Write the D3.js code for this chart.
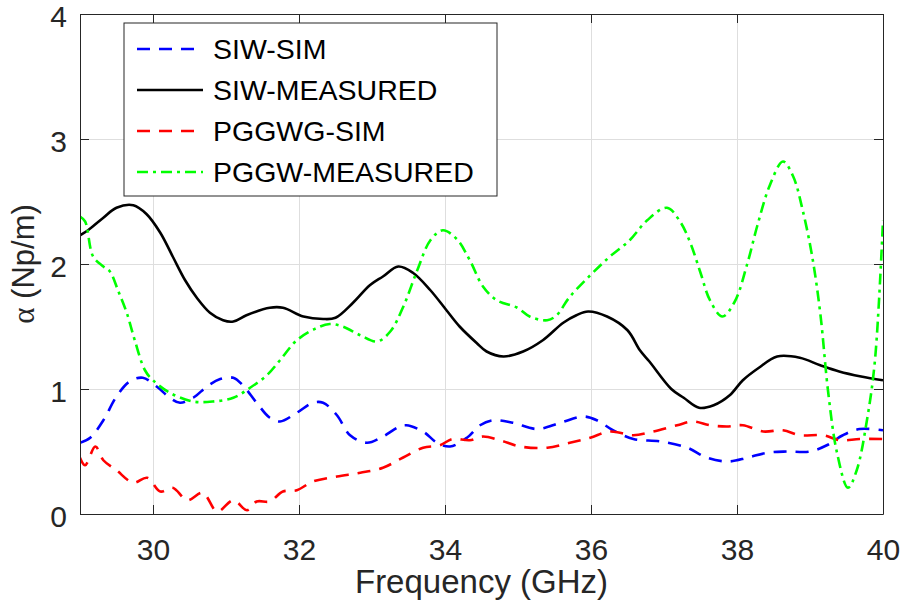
<!DOCTYPE html>
<html>
<head>
<meta charset="utf-8">
<script src="https://cdn.jsdelivr.net/npm/d3@7"></script>
<style>
  body { margin: 0; background: #fff; }
  svg { display: block; font-family: "Liberation Sans", Arial, Helvetica, sans-serif; }
  .axis path, .axis line { stroke: #262626; }
  .axis text { fill: #262626; font-size: 30px; }
  .grid line { stroke: #dedede; }
  .grid path { stroke: none; }
</style>
</head>
<body>
<svg></svg>
<script>
// frequency ticks and alpha ticks
const xTicks = [30, 32, 34, 36, 38, 40];
const yTicks = [0, 1, 2, 3, 4];

const seriesNames = ["SIW-SIM", "SIW-MEASURED", "PGGWG-SIM", "PGGW-MEASURED"];

// SIW-SIM (blue dashed)
const siwSimFreq = [29, 29.14, 29.32, 29.5, 29.68, 29.86, 30.05, 30.23, 30.37, 30.55, 30.74, 30.92, 31.1, 31.23, 31.42, 31.6, 31.74, 31.97, 32.19, 32.33, 32.52, 32.7, 32.93, 33.15, 33.38, 33.47, 33.7, 33.89, 34.07, 34.3, 34.48, 34.66, 34.93, 35.26, 35.58, 35.89, 36.08, 36.3, 36.58, 36.95, 37.32, 37.59, 37.88, 38.14, 38.41, 38.68, 39.0, 39.23, 39.45, 39.68, 40];
const siwSimAlpha = [0.57, 0.61, 0.75, 0.94, 1.06, 1.09, 1.02, 0.93, 0.89, 0.93, 1.02, 1.08, 1.09, 1.03, 0.89, 0.77, 0.74, 0.81, 0.89, 0.89, 0.79, 0.63, 0.57, 0.62, 0.70, 0.71, 0.66, 0.57, 0.54, 0.61, 0.71, 0.75, 0.73, 0.68, 0.73, 0.78, 0.75, 0.67, 0.60, 0.58, 0.53, 0.45, 0.42, 0.45, 0.49, 0.50, 0.50, 0.55, 0.63, 0.68, 0.67];

// SIW-MEASURED (black solid)
const siwMeasFreq = [29, 29.11, 29.32, 29.5, 29.73, 29.91, 30.1, 30.27, 30.44, 30.6, 30.78, 30.96, 31.1, 31.28, 31.6, 31.78, 32.06, 32.33, 32.5, 32.74, 32.97, 33.15, 33.36, 33.56, 33.8, 34.02, 34.2, 34.43, 34.57, 34.8, 35.07, 35.34, 35.62, 35.8, 35.96, 36.22, 36.5, 36.67, 36.8, 37.1, 37.27, 37.48, 37.68, 37.9, 38.08, 38.3, 38.55, 38.86, 39.14, 39.4, 39.7, 40];
const siwMeasAlpha = [2.23, 2.27, 2.37, 2.45, 2.47, 2.40, 2.25, 2.06, 1.87, 1.73, 1.61, 1.55, 1.54, 1.59, 1.65, 1.65, 1.58, 1.56, 1.57, 1.69, 1.83, 1.90, 1.98, 1.93, 1.79, 1.63, 1.50, 1.37, 1.30, 1.26, 1.30, 1.39, 1.53, 1.59, 1.62, 1.58, 1.47, 1.31, 1.22, 1.00, 0.93, 0.85, 0.87, 0.95, 1.07, 1.17, 1.26, 1.25, 1.19, 1.14, 1.10, 1.07];

// PGGWG-SIM (red dashed)
const pggSimFreq = [29, 29.07, 29.21, 29.32, 29.5, 29.73, 29.92, 30.1, 30.27, 30.47, 30.68, 30.88, 31.1, 31.29, 31.42, 31.6, 31.78, 31.97, 32.19, 32.52, 32.84, 33.15, 33.42, 33.7, 33.93, 34.1, 34.34, 34.52, 34.75, 35.03, 35.4, 35.71, 35.99, 36.26, 36.58, 36.85, 37.18, 37.4, 37.63, 37.86, 38.08, 38.36, 38.63, 38.86, 39.18, 39.41, 39.68, 40];
const pggSimAlpha = [0.45, 0.39, 0.54, 0.43, 0.35, 0.25, 0.29, 0.18, 0.21, 0.11, 0.17, 0.02, 0.11, 0.03, 0.10, 0.10, 0.18, 0.19, 0.26, 0.30, 0.33, 0.37, 0.45, 0.53, 0.55, 0.60, 0.59, 0.62, 0.59, 0.54, 0.53, 0.57, 0.61, 0.66, 0.63, 0.66, 0.71, 0.74, 0.71, 0.70, 0.71, 0.66, 0.67, 0.63, 0.63, 0.59, 0.60, 0.60];

// PGGW-MEASURED (green dash-dot)
const pggMeasFreq = [29, 29.07, 29.18, 29.32, 29.41, 29.52, 29.64, 29.75, 29.89, 30.0, 30.23, 30.55, 30.82, 31.1, 31.33, 31.56, 31.74, 31.97, 32.25, 32.42, 32.6, 32.84, 33.07, 33.25, 33.43, 33.62, 33.8, 33.97, 34.16, 34.34, 34.52, 34.71, 34.99, 35.16, 35.4, 35.53, 35.7, 35.99, 36.26, 36.53, 36.77, 37.04, 37.22, 37.36, 37.5, 37.63, 37.8, 37.97, 38.14, 38.28, 38.45, 38.63, 38.77, 38.9, 39.03, 39.14, 39.25, 39.37, 39.52, 39.64, 39.78, 39.89, 40];
const pggMeasAlpha = [2.38, 2.34, 2.06, 1.98, 1.94, 1.79, 1.61, 1.39, 1.15, 1.07, 0.97, 0.90, 0.90, 0.93, 1.01, 1.11, 1.23, 1.39, 1.49, 1.52, 1.50, 1.43, 1.38, 1.46, 1.66, 1.95, 2.19, 2.27, 2.20, 2.03, 1.82, 1.71, 1.65, 1.58, 1.55, 1.59, 1.73, 1.91, 2.06, 2.19, 2.35, 2.45, 2.34, 2.17, 1.93, 1.71, 1.58, 1.70, 2.00, 2.31, 2.63, 2.82, 2.70, 2.43, 2.06, 1.61, 0.97, 0.49, 0.21, 0.35, 0.75, 1.23, 2.35];

var margin = { top: 14, bottom: 100, left: 80, right: 25 };
var width = 908 - margin.left - margin.right;
var height = 614 - margin.top - margin.bottom;

const svg = d3.select("svg")
    .attr("width", width + margin.left + margin.right)
    .attr("height", height + margin.top + margin.bottom)
    .append("g")
    .attr("transform", `translate(${margin.left},${margin.top})`);

const x = d3.scaleLinear().domain([29, 40]).range([0, width]);
const y = d3.scaleLinear().domain([0, 4]).range([height, 0]);

// grid
svg.append("g")
    .attr("class", "grid")
    .attr("transform", `translate(0,${height})`)
    .call(d3.axisBottom(x).tickValues(xTicks).tickSize(-height).tickFormat(""));
svg.append("g")
    .attr("class", "grid")
    .call(d3.axisLeft(y).tickValues(yTicks).tickSize(-width).tickFormat(""));

// series
const series = [
    { name: seriesNames[0], freq: siwSimFreq, alpha: siwSimAlpha, color: "#0000ff", dash: "13,9" },
    { name: seriesNames[1], freq: siwMeasFreq, alpha: siwMeasAlpha, color: "#000000", dash: null },
    { name: seriesNames[2], freq: pggSimFreq, alpha: pggSimAlpha, color: "#ff0000", dash: "13,9" },
    { name: seriesNames[3], freq: pggMeasFreq, alpha: pggMeasAlpha, color: "#00ff00", dash: "11,5,3,5" }
];

svg.append("clipPath").attr("id", "clip")
    .append("rect").attr("width", width).attr("height", height);

const line = d3.line()
    .x(d => x(d[0]))
    .y(d => y(d[1]))
    .curve(d3.curveCatmullRom.alpha(0.5));

svg.append("g")
    .attr("clip-path", "url(#clip)")
    .selectAll(".series")
    .data(series)
    .enter().append("path")
    .attr("class", "series")
    .attr("fill", "none")
    .attr("stroke", d => d.color)
    .attr("stroke-width", 2.6)
    .attr("stroke-dasharray", d => d.dash)
    .attr("d", d => line(d.freq.map((f, i) => [f, d.alpha[i]])));

// axes, ticks inward on all four sides
svg.append("g")
    .attr("class", "axis")
    .attr("transform", `translate(0,${height})`)
    .call(d3.axisBottom(x).tickValues(xTicks).tickFormat(d3.format("d")).tickSizeInner(-9).tickSizeOuter(0).tickPadding(25));
svg.append("g")
    .attr("class", "axis")
    .call(d3.axisLeft(y).tickValues(yTicks).tickFormat(d3.format("d")).tickSizeInner(-9).tickSizeOuter(0).tickPadding(13))
    .selectAll("text")
    .attr("dy", "0.42em");
svg.append("g")
    .attr("class", "axis")
    .call(d3.axisTop(x).tickValues(xTicks).tickSizeInner(-9).tickSizeOuter(0).tickFormat(""));
svg.append("g")
    .attr("class", "axis")
    .attr("transform", `translate(${width},0)`)
    .call(d3.axisRight(y).tickValues(yTicks).tickSizeInner(-9).tickSizeOuter(0).tickFormat(""));

// axis labels
svg.append("text")
    .attr("x", width / 2)
    .attr("y", 579)
    .attr("text-anchor", "middle")
    .attr("fill", "#262626")
    .style("font-size", "33px")
    .text("Frequency (GHz)");

const yl = svg.append("text")
    .attr("transform", `translate(${34 - margin.left},${height / 2}) rotate(-90)`)
    .attr("text-anchor", "middle")
    .attr("fill", "#262626")
    .style("font-size", "31px");
yl.append("tspan").style("font-family", "'Liberation Serif', 'DejaVu Serif', serif").text("α");
yl.append("tspan").text(" (Np/m)");

// legend
const legend = svg.append("g")
    .attr("transform", `translate(${124 - margin.left},${23 - margin.top})`);
legend.append("rect")
    .attr("width", 373)
    .attr("height", 173)
    .attr("fill", "#fff")
    .attr("stroke", "#262626")
    .attr("stroke-width", 1);

const item = legend.selectAll(".item")
    .data(series)
    .enter().append("g")
    .attr("class", "item")
    .attr("transform", (d, i) => `translate(0,${26 + i * 41})`);
item.append("line")
    .attr("x1", 13).attr("x2", 79)
    .attr("stroke", d => d.color)
    .attr("stroke-width", 2.6)
    .attr("stroke-dasharray", d => d.dash);
item.append("text")
    .attr("x", 89)
    .attr("dy", "0.35em")
    .attr("fill", "#000")
    .style("font-size", "28.5px")
    .text(d => d.name);
</script>
</body>
</html>
